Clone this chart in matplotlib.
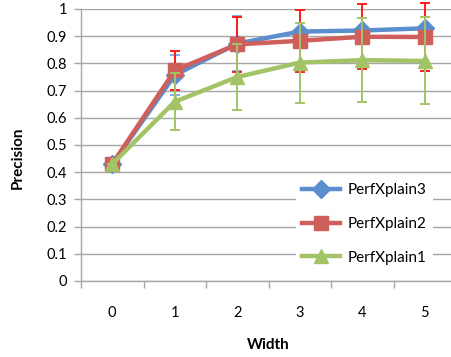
import matplotlib
matplotlib.use("Agg")
import matplotlib.pyplot as plt
import numpy as np

widths = [0, 1, 2, 3, 4, 5]
series_names = ["PerfXplain3", "PerfXplain2", "PerfXplain1"]
px3 = [0.43, 0.757, 0.873, 0.917, 0.921, 0.929]
px3_err = [0.0, 0.075, 0.10, 0.0, 0.0, 0.0]
px2 = [0.43, 0.774, 0.870, 0.883, 0.898, 0.897]
px2_err = [0.0, 0.072, 0.10, 0.113, 0.119, 0.124]
px1 = [0.43, 0.659, 0.750, 0.803, 0.812, 0.809]
px1_err = [0.0, 0.105, 0.12, 0.147, 0.155, 0.16]
yticks = [0, 0.1, 0.2, 0.3, 0.4, 0.5, 0.6, 0.7, 0.8, 0.9, 1]
ytick_labels = ["0", "0.1", "0.2", "0.3", "0.4", "0.5", "0.6", "0.7", "0.8", "0.9", "1"]

plt.rcParams['font.family'] = ['Lato', 'DejaVu Sans']

W, H = 451, 357
fig = plt.figure(figsize=(W / 100, H / 100), dpi=100)
ax = fig.add_axes([81 / W, 76 / H, 375 / W, 272 / H])

grid_c = '#A6A6A6'
ax.set_xlim(-0.5, 5.5)
ax.set_ylim(0, 1)
ax.set_yticks(yticks)
ax.set_yticklabels(ytick_labels)
ax.set_xticks(widths)
ax.set_xticklabels([str(w) for w in widths])
ax.set_xticks(np.arange(-0.5, 6.0, 1.0), minor=True)
ax.tick_params(axis='x', which='major', length=0, pad=18, labelsize=10.5, colors='black')
ax.tick_params(axis='x', which='minor', length=5, width=1, color=grid_c, direction='out')
ax.tick_params(axis='y', length=5, width=1, color=grid_c, direction='out', labelsize=10.5, pad=5)
ax.grid(axis='y', color=grid_c, linewidth=1.0, zorder=0)
ax.set_axisbelow(True)
for s in ['top', 'right']:
    ax.spines[s].set_visible(False)
ax.spines['left'].set_color(grid_c)
ax.spines['bottom'].set_color(grid_c)
ax.spines['left'].set_linewidth(1.0)
ax.spines['bottom'].set_linewidth(1.0)

specs = [
    (px3, px3_err, '#5A8ECF', '#7FB0E6', 'D', 9, 2),
    (px2, px2_err, '#CF5F5A', '#FF1A1A', 's', 9.5, 4),
    (px1, px1_err, '#A3C466', '#A3C466', '^', 10, 6),
]
handles = []
for (vals, err, col, ecol, mk, ms, z), name in zip(specs, series_names):
    ax.errorbar(widths, vals, yerr=err, fmt='none', ecolor=ecol, elinewidth=1.4,
                capsize=3.5, capthick=1.4, zorder=z - 1, clip_on=False)
    ln, = ax.plot(widths, vals, color=col, linewidth=3.2, marker=mk, markersize=ms,
                  markerfacecolor=col, markeredgecolor=col, zorder=z, label=name,
                  clip_on=False)
    handles.append(ln)

leg = fig.legend(handles=handles, labels=series_names, loc='upper left',
                 bbox_to_anchor=(296 / W, 1 - 177 / H), frameon=True, fontsize=11,
                 labelspacing=1.3, handlelength=2.5, handletextpad=0.5,
                 borderpad=0.4, borderaxespad=0)
leg.get_frame().set_facecolor('white')
leg.get_frame().set_edgecolor('none')
leg.get_frame().set_alpha(1.0)

fig.text(268 / W, 1 - 345 / H, "Width", ha='center', va='center', fontsize=11, fontweight='bold')
fig.text(18 / W, 1 - 158 / H, "Precision", ha='center', va='center', rotation=90,
         fontsize=11, fontweight='bold')

fig.savefig("out.png", dpi=100)
